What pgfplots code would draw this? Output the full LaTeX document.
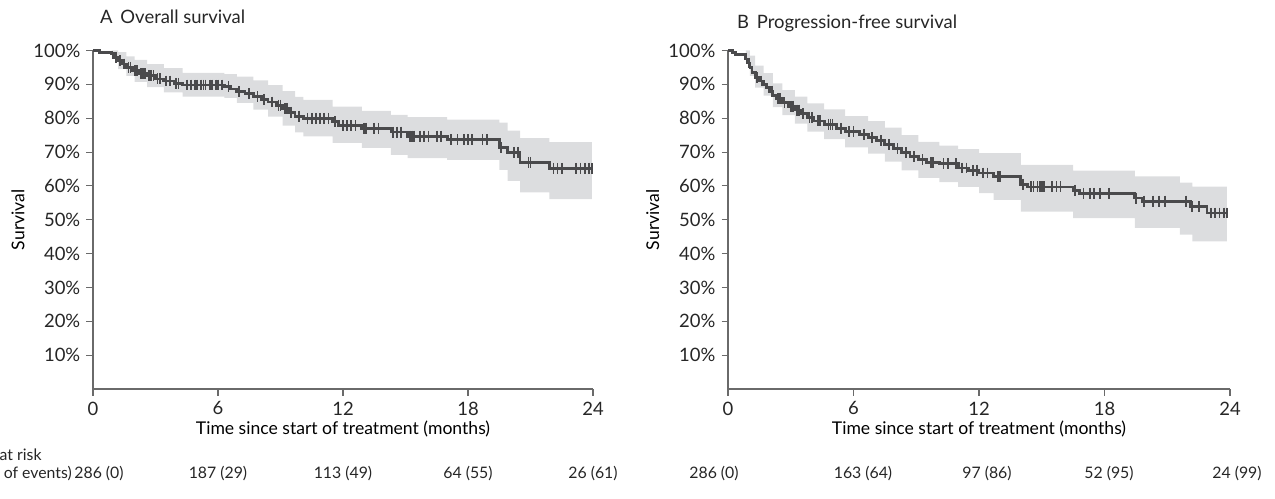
\documentclass[border=0pt]{standalone}
\usepackage{fontspec}
\setmainfont{Lato}
\usepackage{pgfplots}
\usepackage{pgfplotstable}
\pgfplotsset{compat=1.18}
\usepgfplotslibrary{fillbetween}
\definecolor{curveGray}{HTML}{4A4A4C}
\definecolor{bandGray}{HTML}{DCDDDF}
\definecolor{axisGray}{HTML}{6A6A6A}

% Overall survival: step curve (time, percent)
\pgfplotstableread{
t s
0 100
0.3 99.5
0.9 99.0
1.0 98.0
1.2 97.0
1.4 96.0
1.6 95.0
1.9 94.0
2.2 93.2
2.6 92.5
3.0 91.6
3.4 91.0
3.9 90.3
4.3 89.8
6.3 89.3
6.6 88.6
6.9 87.9
7.3 87.2
7.7 86.4
8.1 85.6
8.4 84.8
8.8 83.8
9.1 82.8
9.4 81.7
9.7 80.6
10.1 80.0
11.5 79.0
11.8 77.8
12.9 77.0
14.3 75.9
15.1 74.7
17.0 73.6
19.5 71.3
19.9 69.9
20.5 67.0
21.9 65.2
23.95 65.2
}\osCurve

% Overall survival: confidence band (time, upper, lower)
\pgfplotstableread{
t up lo
0 100 100
0.9 100 97.5
1.2 99.5 94.5
1.6 98.3 92.5
2.0 97.2 90.7
2.6 96.0 89.2
3.4 94.8 87.6
4.3 93.4 86.4
6.3 93.0 86.0
6.9 92.3 84.5
7.7 91.2 82.5
8.4 89.8 80.5
9.1 88.0 77.8
9.7 86.3 75.8
10.1 85.4 74.6
11.5 83.4 72.7
12.9 82.2 71.2
14.3 81.0 69.2
15.1 80.3 68.2
17.0 79.6 67.7
19.5 78.7 64.7
19.9 76.3 61.5
20.5 74.1 58.1
21.9 72.9 56.1
23.95 72.9 56.1
}\osBand

% Overall survival: censored observations
\pgfplotstableread{
t s
1.1 98
1.3 97
1.5 96
1.7 95
1.8 95
2.0 94
2.1 94
2.3 93.2
2.4 93.2
2.5 93.2
2.7 92.5
2.8 92.5
2.9 92.5
3.1 91.6
3.2 91.6
3.5 91.0
3.7 91.0
4.0 90.3
4.1 90.3
4.5 89.8
4.7 89.8
4.9 89.8
5.0 89.8
5.2 89.8
5.3 89.8
5.4 89.8
5.6 89.8
5.7 89.8
5.9 89.8
6.0 89.8
6.2 89.8
6.5 89.3
7.0 87.9
7.5 87.2
7.9 86.4
8.2 85.6
8.6 84.8
8.9 83.8
9.0 83.8
9.2 82.8
9.3 82.8
9.5 81.7
9.9 80.6
10.3 80.0
10.5 80.0
10.7 80.0
10.9 80.0
11.1 80.0
11.3 80.0
11.6 79.0
12.0 77.8
12.2 77.8
12.4 77.8
12.6 77.8
13.0 77.0
13.1 77.0
13.5 77.0
13.7 77.0
14.4 75.9
14.6 75.9
14.8 75.9
15.2 74.7
15.3 74.7
15.4 74.7
15.7 74.7
15.9 74.7
16.1 74.7
16.5 74.7
16.7 74.7
17.2 73.6
17.5 73.6
17.8 73.6
18.0 73.6
18.2 73.6
18.7 73.6
18.9 73.6
19.6 71.3
20.2 69.9
20.4 69.9
20.9 67.0
21.0 67.0
22.1 65.2
22.3 65.2
22.5 65.2
23.2 65.2
23.4 65.2
23.6 65.2
23.8 65.2
23.95 65.2
}\osCens

% Progression-free survival: step curve
\pgfplotstableread{
t s
0 100
0.2 99.5
0.35 98.8
0.85 97.5
0.95 96.3
1.05 95.0
1.15 93.5
1.3 92.0
1.5 91.0
1.7 90.0
1.85 89.0
2.0 88.0
2.15 86.8
2.3 85.7
2.6 84.6
2.9 83.5
3.2 82.4
3.5 81.3
3.8 80.2
4.1 79.2
4.6 78.2
5.2 77.0
5.6 76.0
6.3 75.2
6.7 74.3
7.1 73.3
7.5 72.2
7.9 71.0
8.3 69.8
8.7 68.7
9.1 67.7
9.5 66.8
10.1 66.5
11.0 65.3
11.5 64.6
12.0 63.8
12.7 62.7
14.0 60.5
14.3 59.7
16.5 58.7
16.8 57.8
19.45 56.4
19.8 55.5
22.1 53.8
22.9 52.0
23.85 52.0
}\pfsCurve

% Progression-free survival: confidence band
\pgfplotstableread{
t up lo
0 100 100
0.85 100 96.5
1.05 98.5 92.5
1.3 95.5 89.0
1.7 93.3 86.7
2.15 90.3 83.3
2.6 88.3 80.9
3.2 86.4 78.4
3.8 84.4 76.0
4.6 82.6 73.8
5.6 80.6 71.4
6.7 79.1 69.5
7.5 77.2 67.2
8.3 75.0 64.6
9.1 73.0 62.4
10.1 71.9 61.1
11.0 70.9 59.7
12.0 69.7 57.9
12.7 69.7 55.9
14.0 66.2 52.4
16.5 64.5 50.5
19.45 62.8 47.6
21.6 61.0 45.6
22.2 59.8 43.6
23.85 59.8 43.6
}\pfsBand

% Progression-free survival: censored observations
\pgfplotstableread{
t s
1.0 96.3
1.4 92.0
1.6 91.0
2.1 88.0
2.4 85.7
2.5 85.7
2.7 84.6
3.0 83.5
3.1 83.5
3.3 82.4
3.4 82.4
3.6 81.3
3.9 80.2
4.0 80.2
4.3 79.2
4.4 79.2
4.8 78.2
4.9 78.2
5.0 78.2
5.4 77.0
5.8 76.0
6.0 76.0
6.5 75.2
6.9 74.3
7.3 73.3
7.7 72.2
8.1 71.0
8.5 69.8
8.9 68.7
9.3 67.7
9.7 66.8
9.8 66.8
10.3 66.5
10.5 66.5
10.9 66.5
11.2 65.3
11.4 65.3
11.7 64.6
11.9 64.6
12.2 63.8
12.4 63.8
12.9 62.7
13.0 62.7
14.1 60.5
14.5 59.7
14.6 59.7
14.8 59.7
14.9 59.7
15.0 59.7
15.1 59.7
15.5 59.7
15.7 59.7
15.9 59.7
16.6 58.7
17.0 57.8
17.3 57.8
17.5 57.8
17.8 57.8
18.2 57.8
19.5 56.4
19.9 55.5
20.3 55.5
20.6 55.5
20.9 55.5
21.9 55.5
22.2 53.8
22.5 53.8
23.1 52.0
23.3 52.0
23.5 52.0
23.7 52.0
23.85 52.0
}\pfsCens

\pgfplotsset{
  kmaxis/.style={
    scale only axis,
    width=10cm, height=6.77cm,
    xmin=0, xmax=24, ymin=0, ymax=100,
    axis x line*=bottom, axis y line*=left,
    axis line style={draw=axisGray, line width=0.6pt, -},
    xtick={0,6,12,18,24},
    ytick={10,20,30,40,50,60,70,80,90,100},
    yticklabel={\pgfmathprintnumber{\tick}\%},
    /pgf/number format/assume math mode=true,
    tick align=outside,
    major tick length=0.13cm,
    tick style={draw=axisGray, line width=0.6pt},
    ticklabel style={font=\fontsize{10.5}{12}\selectfont, text=black!85},
    xlabel={Time since start of treatment (months)},
    ylabel={Survival},
    label style={font=\fontsize{11.3}{13}\selectfont, text=black!85},
    every axis x label/.style={at={(axis description cs:0.5,0)}, yshift=-0.8cm, anchor=center},
    every axis y label/.style={at={(axis description cs:-0.15,0.5)}, rotate=90, anchor=center},
    clip=false,
  },
  kmline/.style={const plot, draw=curveGray, line width=1.6pt},
  kmcens/.style={only marks, mark=|, mark size=3.1pt, mark options={draw=curveGray, line width=1pt}},
}

\begin{document}
\begin{tikzpicture}
\begin{axis}[kmaxis]
\addplot[const plot, draw=none, name path=osUp] table[x=t, y=up] {\osBand};
\addplot[const plot, draw=none, name path=osLo] table[x=t, y=lo] {\osBand};
\addplot[fill=bandGray, draw=none] fill between[of=osUp and osLo];
\addplot[kmline] table[x=t, y=s] {\osCurve};
\addplot[kmcens] table[x=t, y=s] {\osCens};
\end{axis}

\begin{axis}[kmaxis, at={(12.7cm,0)}, width=10.04cm]
\addplot[const plot, draw=none, name path=pfsUp] table[x=t, y=up] {\pfsBand};
\addplot[const plot, draw=none, name path=pfsLo] table[x=t, y=lo] {\pfsBand};
\addplot[fill=bandGray, draw=none] fill between[of=pfsUp and pfsLo];
\addplot[kmline] table[x=t, y=s] {\pfsCurve};
\addplot[kmcens] table[x=t, y=s] {\pfsCens};
\end{axis}

% panel titles
\node[anchor=west, font=\fontsize{10.5}{12}\selectfont, text=black!85] at (0.02cm,7.44cm) {A\, Overall survival};
\node[anchor=west, font=\fontsize{10.5}{12}\selectfont, text=black!85] at (12.76cm,7.32cm) {B\, Progression-free survival};

% number at risk
\begin{scope}[every node/.style={font=\fontsize{9}{11}\selectfont, text=black!85}]
\node[anchor=base west] at (-2.59cm,-1.42cm) {No. at risk};
\node[anchor=base west] at (-2.59cm,-1.78cm) {(No. of events)};
\node[anchor=base] at (0.12cm,-1.78cm) {286 (0)};
\node[anchor=base] at (2.5cm,-1.78cm) {187 (29)};
\node[anchor=base] at (5.0cm,-1.78cm) {113 (49)};
\node[anchor=base] at (7.5cm,-1.78cm) {64 (55)};
\node[anchor=base] at (10.0cm,-1.78cm) {26 (61)};
\node[anchor=base] at (12.42cm,-1.78cm) {286 (0)};
\node[anchor=base] at (15.4cm,-1.78cm) {163 (64)};
\node[anchor=base] at (17.88cm,-1.78cm) {97 (86)};
\node[anchor=base] at (20.32cm,-1.78cm) {52 (95)};
\node[anchor=base] at (22.88cm,-1.78cm) {24 (99)};
\end{scope}

\pgfresetboundingbox
\path[use as bounding box] (-1.86cm,-2.18cm) rectangle (23.64cm,7.78cm);
\end{tikzpicture}
\end{document}
